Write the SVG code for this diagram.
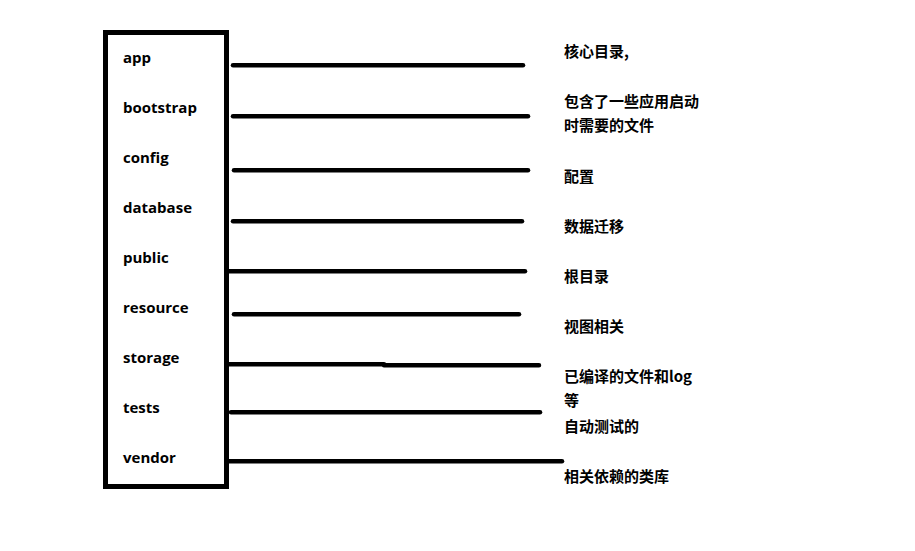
<svg xmlns="http://www.w3.org/2000/svg" width="915" height="551" viewBox="0 0 915 551">
<style>
.lbl{font-family:"Open Sans","Noto Sans CJK SC",sans-serif;font-size:15px;font-weight:bold;fill:#000}
.desc{font-family:"Noto Sans CJK SC","Open Sans",sans-serif;font-size:15px;font-weight:bold;fill:#000}
.ln{stroke:#000;stroke-width:4.5;stroke-linecap:round;fill:none}
</style>
<rect width="915" height="551" fill="#fff"/>
<g id="box">
<rect x="105.5" y="32.5" width="121" height="454" fill="none" stroke="#000" stroke-width="5"/>
<text class="lbl" x="123" y="63">app</text>
<text class="lbl" x="123" y="113">bootstrap</text>
<text class="lbl" x="123" y="163">config</text>
<text class="lbl" x="123" y="213">database</text>
<text class="lbl" x="123" y="263">public</text>
<text class="lbl" x="123" y="313">resource</text>
<text class="lbl" x="123" y="363">storage</text>
<text class="lbl" x="123" y="413">tests</text>
<text class="lbl" x="123" y="463">vendor</text>
</g>
<g id="connectors">
<line class="ln" x1="233" y1="65.3" x2="523" y2="65.3"/>
<line class="ln" x1="233" y1="116.3" x2="528" y2="116.3"/>
<line class="ln" x1="234" y1="170.3" x2="528" y2="170.3"/>
<line class="ln" x1="233" y1="221.3" x2="522" y2="221.3"/>
<line class="ln" x1="228" y1="271.3" x2="525" y2="271.3"/>
<line class="ln" x1="234" y1="314.3" x2="519" y2="314.3"/>
<path class="ln" d="M228 364.3H384M384 365.3H539" stroke-linecap="butt"/>
<line class="ln" x1="231" y1="412.3" x2="540" y2="412.3"/>
<line class="ln" x1="228" y1="461.3" x2="562" y2="461.3"/>
</g>
<g id="descriptions">
<text class="desc" x="564" y="57">核心目录,</text>
<text class="desc" x="564" y="107">包含了一些应用启动</text>
<text class="desc" x="564" y="131">时需要的文件</text>
<text class="desc" x="564" y="182">配置</text>
<text class="desc" x="564" y="232">数据迁移</text>
<text class="desc" x="564" y="282">根目录</text>
<text class="desc" x="564" y="332">视图相关</text>
<text class="desc" x="564" y="382">已编译的文件和log</text>
<text class="desc" x="564" y="406">等</text>
<text class="desc" x="564" y="432">自动测试的</text>
<text class="desc" x="564" y="482">相关依赖的类库</text>
</g>
</svg>
